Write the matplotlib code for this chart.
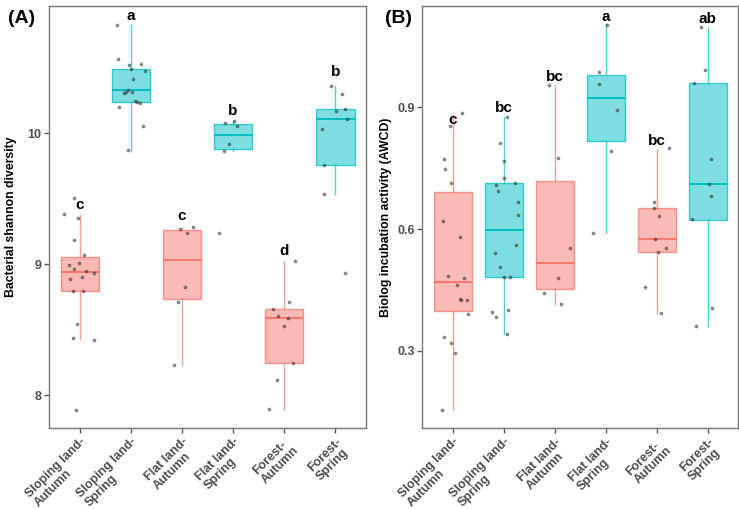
import matplotlib.pyplot as plt
from matplotlib.colors import to_rgba

plt.rcParams['font.family'] = ['Liberation Sans', 'DejaVu Sans']

groups = ['Sloping land-\nAutumn', 'Sloping land-\nSpring', 'Flat land-\nAutumn',
          'Flat land-\nSpring', 'Forest-\nAutumn', 'Forest-\nSpring']
season = ['Autumn', 'Spring', 'Autumn', 'Spring', 'Autumn', 'Spring']

# Panel A: bacterial shannon diversity
a_q1 = [8.794, 10.239, 8.737, 9.878, 8.244, 9.760]
a_med = [8.944, 10.326, 9.033, 9.987, 8.588, 10.109]
a_q3 = [9.053, 10.493, 9.262, 10.069, 8.656, 10.186]
a_lo = [8.427, 9.867, 8.229, 9.865, 7.890, 9.534]
a_hi = [9.376, 10.824, 9.280, 10.096, 9.023, 10.356]
a_pts = [
    [9.504, 9.382, 9.351, 9.185, 9.071, 9.012, 8.992, 8.964, 8.951, 8.931, 8.901,
     8.888, 8.794, 8.794, 8.544, 8.435, 8.422, 7.890],
    [10.827, 10.565, 10.519, 10.527, 10.491, 10.473, 10.412, 10.331, 10.305, 10.315,
     10.313, 10.247, 10.241, 10.231, 10.196, 10.056, 9.870],
    [9.270, 9.287, 9.239, 8.829, 8.710, 8.229],
    [10.076, 10.096, 10.056, 9.918, 9.865, 9.239],
    [9.025, 8.712, 8.656, 8.608, 8.588, 8.529, 8.244, 8.114, 7.893],
    [10.359, 10.302, 10.186, 10.170, 10.109, 10.033, 9.760, 9.534, 8.936],
]
a_jit = [
    [-0.12, -0.30, -0.03, -0.11, 0.08, -0.01, -0.21, -0.11, 0.12, 0.28, 0.04,
     -0.19, -0.14, 0.07, -0.06, -0.14, 0.28, -0.08],
    [-0.27, -0.25, -0.03, 0.20, 0.0, 0.27, 0.05, -0.06, -0.14, -0.10, 0.03, 0.08,
     0.12, 0.17, -0.23, 0.24, -0.06],
    [-0.04, 0.22, 0.09, 0.06, -0.07, -0.16],
    [-0.16, 0.02, 0.08, -0.07, -0.18, -0.27],
    [0.21, 0.10, -0.22, -0.12, 0.08, 0.0, 0.18, -0.14, -0.29],
    [-0.08, 0.13, 0.18, 0.01, 0.22, -0.27, -0.22, -0.22, 0.18],
]
a_letters = ['c', 'a', 'c', 'b', 'd', 'b']
a_letter_y = [9.40, 10.84, 9.313, 10.115, 9.046, 10.415]

# Panel B: Biolog AWCD
b_q1 = [0.399, 0.481, 0.452, 0.817, 0.543, 0.623]
b_med = [0.4705, 0.5985, 0.516, 0.924, 0.576, 0.710]
b_q3 = [0.6906, 0.713, 0.719, 0.979, 0.651, 0.960]
b_lo = [0.155, 0.342, 0.416, 0.591, 0.394, 0.361]
b_hi = [0.883, 0.877, 0.955, 1.104, 0.797, 1.096]
b_pts = [
    [0.885, 0.854, 0.772, 0.749, 0.714, 0.621, 0.581, 0.484, 0.479, 0.462, 0.428,
     0.425, 0.425, 0.391, 0.334, 0.320, 0.294, 0.155],
    [0.877, 0.811, 0.769, 0.726, 0.708, 0.714, 0.694, 0.668, 0.636, 0.561, 0.541,
     0.507, 0.481, 0.481, 0.396, 0.383, 0.402, 0.341],
    [0.955, 0.775, 0.553, 0.479, 0.443, 0.415],
    [1.103, 0.988, 0.957, 0.893, 0.792, 0.591],
    [0.799, 0.667, 0.651, 0.633, 0.576, 0.554, 0.543, 0.457, 0.394],
    [1.097, 0.991, 0.961, 0.773, 0.710, 0.682, 0.625, 0.407, 0.361],
]
b_jit = [
    [0.18, -0.05, -0.18, -0.15, -0.04, -0.20, 0.14, -0.09, 0.22, 0.09, 0.14, 0.16,
     0.27, 0.29, -0.18, -0.04, 0.05, -0.22],
    [0.07, -0.07, 0.01, 0.0, -0.16, 0.22, -0.12, 0.27, 0.27, 0.23, -0.18, -0.07,
     0.0, 0.12, -0.23, -0.16, 0.08, 0.07],
    [-0.12, 0.07, 0.30, 0.06, -0.22, 0.12],
    [0.03, -0.13, -0.14, 0.22, 0.10, -0.26],
    [0.24, -0.06, -0.05, 0.04, -0.03, 0.18, 0.03, -0.23, 0.09],
    [-0.13, -0.06, -0.26, 0.06, 0.03, 0.06, -0.30, 0.09, -0.22],
]
b_letters = ['c', 'bc', 'bc', 'a', 'bc', 'ab']
b_letter_y = [0.851, 0.881, 0.957, 1.105, 0.80, 1.10]

colors = {'Autumn': '#F8766D', 'Spring': '#00BFC4'}
grey = '#4D4D4D'


def panel(ax, q1, med, q3, lo, hi, pts, jit, letters, letter_y, ylim, yticks, ytl, ylabel, labx):
    pos = list(range(1, len(groups) + 1))
    for i in range(len(groups)):
        c = colors[season[i]]
        st = [{'q1': q1[i], 'med': med[i], 'q3': q3[i], 'whislo': lo[i], 'whishi': hi[i], 'fliers': []}]
        ax.bxp(st, positions=[pos[i]], widths=0.75, showcaps=False, patch_artist=True,
               boxprops=dict(facecolor=to_rgba(c, 0.5), edgecolor=to_rgba(c, 0.75), linewidth=1.0),
               whiskerprops=dict(color=to_rgba(c, 0.7), linewidth=1.0),
               medianprops=dict(color=c, linewidth=1.4))
        xs = [pos[i] + j for j in jit[i]]
        ax.scatter(xs, pts[i], s=7, color='#333333', alpha=0.6, linewidths=0, zorder=5)
        ax.text(pos[i], letter_y[i], letters[i], ha='center', va='bottom',
                fontsize=11, fontweight='bold', color='black', zorder=6)
    ax.set_xlim(0.4, 6.6)
    ax.set_ylim(*ylim)
    ax.set_yticks(yticks)
    ax.set_yticklabels(ytl)
    ax.set_xticks(pos)
    ax.set_xticklabels(groups, rotation=45, ha='right', rotation_mode='anchor',
                       multialignment='left', fontsize=9, fontweight='bold',
                       color=grey, linespacing=1.05)
    for t in ax.get_yticklabels():
        t.set_fontsize(9)
        t.set_fontweight('bold')
        t.set_color(grey)
    ax.tick_params(axis='both', color='#555555', length=3.5, width=1.0, pad=2)
    for sp in ax.spines.values():
        sp.set_color('#777777')
        sp.set_linewidth(1.0)
    ax.set_ylabel(ylabel, fontsize=8.8, fontweight='bold')
    ax.yaxis.set_label_coords(labx, 0.5)


fig = plt.figure(figsize=(7.39, 5.09), dpi=100)
axA = fig.add_axes([0.0663, 0.1597, 0.429, 0.8285])
axB = fig.add_axes([0.5715, 0.1585, 0.4275, 0.8297])

panel(axA, a_q1, a_med, a_q3, a_lo, a_hi, a_pts, a_jit, a_letters, a_letter_y,
      (7.753, 10.97), [8, 9, 10], ['8', '9', '10'], 'Bacterial shannon diversity', -0.102)
panel(axB, b_q1, b_med, b_q3, b_lo, b_hi, b_pts, b_jit, b_letters, b_letter_y,
      (0.1096, 1.1495), [0.3, 0.6, 0.9], ['0.3', '0.6', '0.9'],
      'Biolog incubation activity (AWCD)', -0.096)

fig.text(0.0298, 0.9646, '(A)', fontsize=14, fontweight='bold', ha='center', va='center')
fig.text(0.539, 0.9646, '(B)', fontsize=14, fontweight='bold', ha='center', va='center')

fig.savefig('out.png', dpi=100)
